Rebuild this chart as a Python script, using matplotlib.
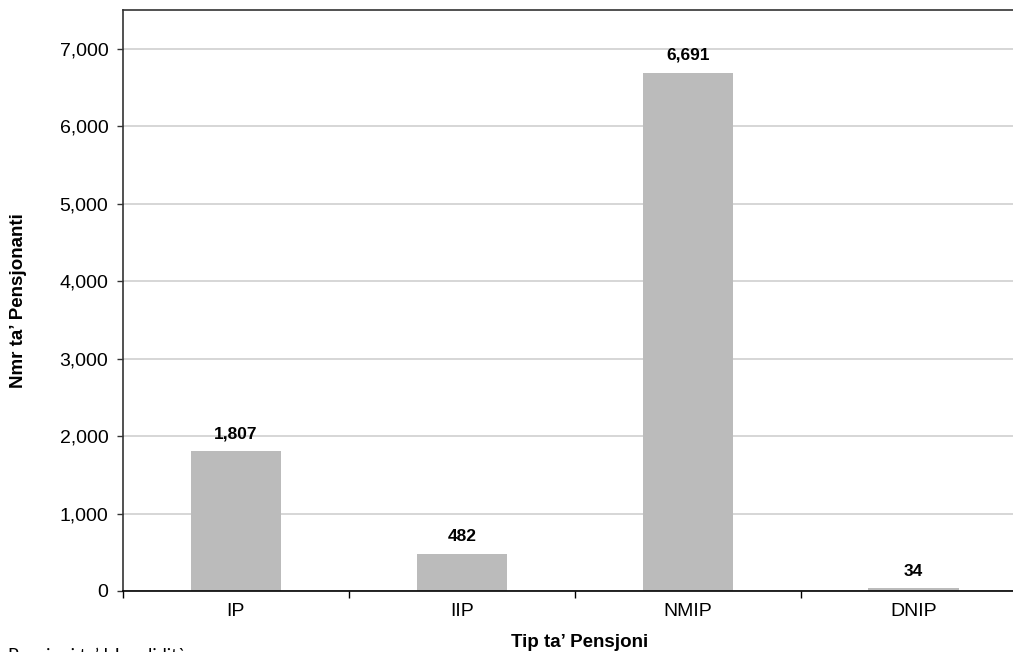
import matplotlib.pyplot as plt
from matplotlib.ticker import FuncFormatter, FixedLocator

# dejta
tipi = ['IP', 'IIP', 'NMIP', 'DNIP']
pensjonanti = [1807, 482, 6691, 34]

plt.rcParams['font.family'] = ['Liberation Sans', 'DejaVu Sans']

fig = plt.figure(figsize=(10.13, 6.52), dpi=100)
ax = fig.add_axes([0.1214, 0.0936, 0.892, 0.8911])

x = range(len(tipi))
bars = ax.bar(x, pensjonanti, width=0.4, color='#BBBBBB', zorder=3)
ax.bar_label(bars, labels=[f'{v:,}' for v in pensjonanti], padding=7,
             fontsize=12.5, fontweight='bold')

ax.set_xlim(-0.5, 3.5)
ax.set_ylim(0, 7500)
ax.set_yticks(range(0, 7001, 1000))
ax.yaxis.set_major_formatter(FuncFormatter(lambda v, p: f'{int(v):,}'))
ax.grid(axis='y', color='#D0D0D0', linewidth=1.2, zorder=0)

ax.set_xticks(list(x))
ax.set_xticklabels(tipi)
ax.xaxis.set_minor_locator(FixedLocator([-0.5, 0.5, 1.5, 2.5, 3.5]))
ax.tick_params(axis='x', which='major', length=0, pad=9, labelsize=14)
ax.tick_params(axis='x', which='minor', length=5, width=1, color='black')
ax.tick_params(axis='y', length=4.5, width=1, pad=6, labelsize=14, color='#333333')

for s in ['top', 'left']:
    ax.spines[s].set_color('#333333')
    ax.spines[s].set_linewidth(1.2)
ax.spines['bottom'].set_color('black')
ax.spines['bottom'].set_linewidth(1.2)
ax.spines['bottom'].set_zorder(4)
ax.spines['right'].set_visible(False)

ax.set_xlabel('Tip ta\u2019 Pensjoni', fontsize=13.5, fontweight='bold')
ax.set_ylabel('Nmr ta\u2019 Pensjonanti', fontsize=13.5, fontweight='bold')
ax.xaxis.set_label_coords(0.505, -0.074)
ax.yaxis.set_label_coords(-0.106, 0.5)

# nota taht il-grafika, maqtugha fit-tarf bhal fl-original
fig.text(0.008, 0.007, 'Pensjoni ta\u2019 l-Invalidit\u00e0', fontsize=13,
         family=['Lato', 'DejaVu Sans'], va='top', ha='left')

fig.savefig('out.png', dpi=100)
